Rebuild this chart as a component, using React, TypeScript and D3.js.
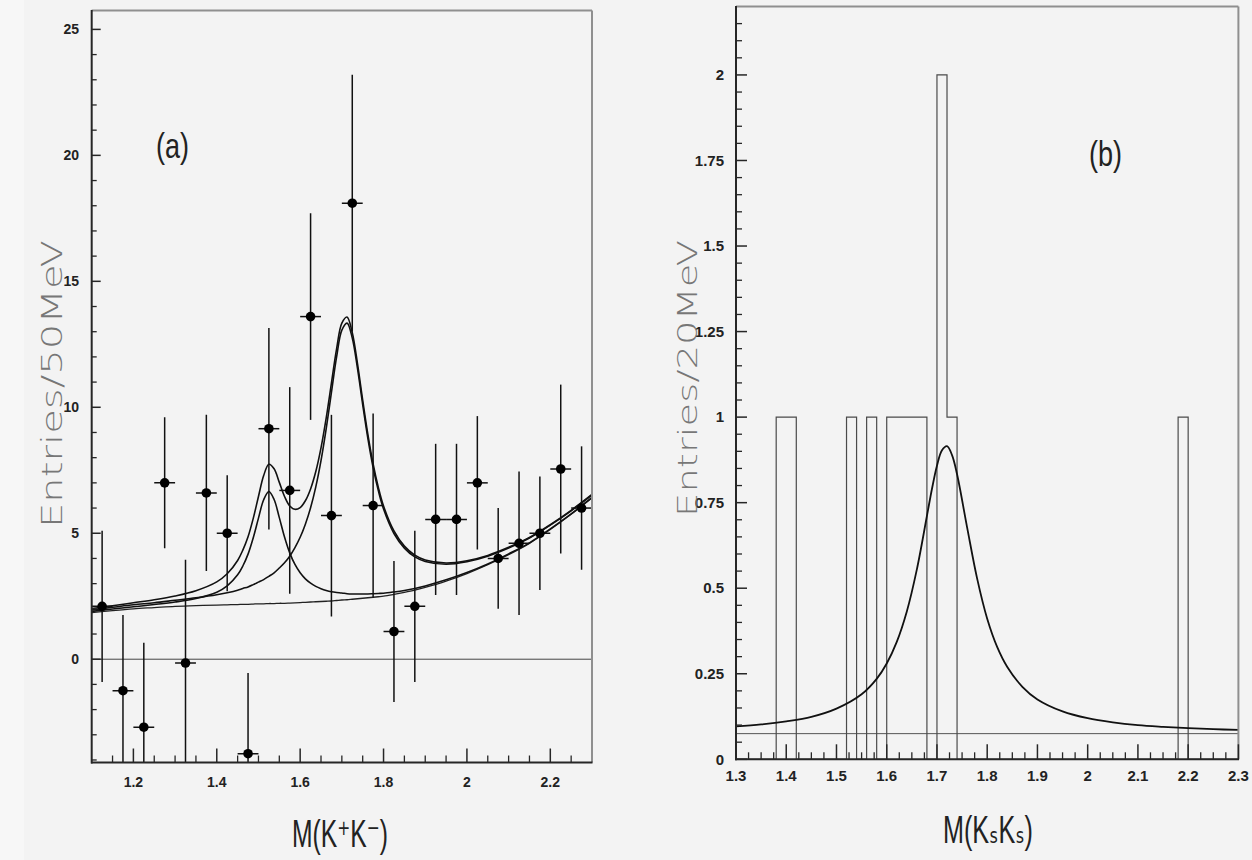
import React from 'react';
import * as d3 from 'd3';

// ---------- Panel (a): M(K+K-) data, 50 MeV bins ----------
const kkMass = [1.125, 1.175, 1.225, 1.275, 1.325, 1.375, 1.425, 1.475, 1.525, 1.575, 1.625, 1.675,
  1.725, 1.775, 1.825, 1.875, 1.925, 1.975, 2.025, 2.075, 2.125, 2.175, 2.225, 2.275];
const kkEntries = [2.1, -1.25, -2.7, 7.0, -0.15, 6.6, 5.0, -3.75, 9.15, 6.7, 13.6, 5.7,
  18.1, 6.1, 1.1, 2.1, 5.55, 5.55, 7.0, 4.0, 4.6, 5.0, 7.55, 6.0];
const kkErrors = [3.0, 3.0, 3.35, 2.6, 4.1, 3.1, 2.3, 3.2, 4.0, 4.1, 4.1, 4.0,
  5.1, 3.65, 2.8, 3.0, 3.0, 3.0, 2.65, 2.0, 2.85, 2.25, 3.35, 2.45];

// fit curves (background and the two resonance contributions)
const fitMass = [1.10, 1.15, 1.20, 1.25, 1.30, 1.35, 1.40, 1.425, 1.45, 1.4625, 1.475, 1.4875, 1.50,
  1.5125, 1.525, 1.5375, 1.55, 1.5625, 1.575, 1.5875, 1.60, 1.6125, 1.625, 1.6375, 1.65, 1.6625,
  1.675, 1.6875, 1.70, 1.7125, 1.725, 1.7375, 1.75, 1.7625, 1.775, 1.7875, 1.80, 1.825, 1.85,
  1.875, 1.90, 1.95, 2.00, 2.05, 2.10, 2.15, 2.20, 2.25, 2.30];
const fitBackground = [1.85, 1.93, 2.00, 2.05, 2.10, 2.13, 2.15, 2.16, 2.17, 2.18, 2.18, 2.19, 2.20,
  2.20, 2.21, 2.21, 2.22, 2.22, 2.23, 2.24, 2.25, 2.26, 2.27, 2.28, 2.29, 2.30,
  2.31, 2.33, 2.35, 2.36, 2.38, 2.40, 2.42, 2.44, 2.46, 2.48, 2.50, 2.57, 2.65,
  2.74, 2.85, 3.10, 3.40, 3.75, 4.15, 4.60, 5.15, 5.75, 6.40];
const fitPeakLow = [0.05, 0.06, 0.08, 0.12, 0.17, 0.28, 0.51, 0.75, 1.18, 1.52, 1.99, 2.63, 3.40,
  4.13, 4.45, 4.13, 3.40, 2.63, 1.99, 1.52, 1.18, 0.93, 0.75, 0.61, 0.51, 0.43,
  0.37, 0.32, 0.28, 0.24, 0.21, 0.19, 0.17, 0.15, 0.14, 0.13, 0.12, 0.10, 0.08,
  0.07, 0.06, 0.05, 0.04, 0.03, 0.03, 0.02, 0.02, 0.02, 0.02];
const fitPeakHigh = [0.11, 0.13, 0.16, 0.19, 0.24, 0.31, 0.41, 0.48, 0.57, 0.63, 0.69, 0.77, 0.86,
  0.96, 1.08, 1.22, 1.40, 1.61, 1.86, 2.19, 2.59, 3.10, 3.74, 4.56, 5.59, 6.85,
  8.28, 9.68, 10.71, 10.98, 10.37, 9.14, 7.69, 6.32, 5.15, 4.21, 3.46, 2.42, 1.76,
  1.32, 1.03, 0.67, 0.47, 0.34, 0.26, 0.21, 0.17, 0.14, 0.12];

const kkXTicks = [1.2, 1.4, 1.6, 1.8, 2.0, 2.2];
const kkXTickLabels = ['1.2', '1.4', '1.6', '1.8', '2', '2.2'];
const kkYTicks = [0, 5, 10, 15, 20, 25];

// ---------- Panel (b): M(KsKs) histogram, 20 MeV bins from 1.30 ----------
const ksCounts = [0, 0, 0, 0, 1, 1, 0, 0, 0, 0, 0, 1, 0, 1, 0, 1, 1, 1, 1, 0, 2, 1, 0, 0, 0,
  0, 0, 0, 0, 0, 0, 0, 0, 0, 0, 0, 0, 0, 0, 0, 0, 0, 0, 0, 1, 0, 0, 0, 0, 0];
const ksFitMass = [1.30, 1.35, 1.40, 1.45, 1.50, 1.55, 1.58, 1.60, 1.62, 1.64, 1.66, 1.68, 1.69, 1.70,
  1.71, 1.72, 1.73, 1.74, 1.76, 1.78, 1.80, 1.82, 1.84, 1.87, 1.90, 1.95, 2.00, 2.05, 2.10,
  2.15, 2.20, 2.25, 2.30];
const ksFitCurve = [0.096, 0.102, 0.111, 0.124, 0.148, 0.190, 0.235, 0.280, 0.343, 0.432, 0.555,
  0.711, 0.790, 0.858, 0.903, 0.915, 0.889, 0.833, 0.678, 0.528, 0.411, 0.328, 0.270, 0.212,
  0.175, 0.140, 0.120, 0.108, 0.100, 0.095, 0.091, 0.088, 0.086];
const ksFlatLevel = [0.075];
const ksXTicks = [1.3, 1.4, 1.5, 1.6, 1.7, 1.8, 1.9, 2.0, 2.1, 2.2, 2.3];
const ksXTickLabels = ['1.3', '1.4', '1.5', '1.6', '1.7', '1.8', '1.9', '2', '2.1', '2.2', '2.3'];
const ksYTicks = [0, 0.25, 0.5, 0.75, 1, 1.25, 1.5, 1.75, 2];
const ksYTickLabels = ['0', '0.25', '0.5', '0.75', '1', '1.25', '1.5', '1.75', '2'];

const TICK_FONT = "'Liberation Sans', Arial, sans-serif";
const TITLE_FONT = "'Liberation Sans Narrow', 'Liberation Sans', 'DejaVu Sans', sans-serif";
const YTITLE_FONT = "'DejaVu Sans', sans-serif";

export default function App() {
  const W = 1252, H = 860;

  // scales
  const kx = d3.scaleLinear().domain([1.1, 2.3]).range([91.7, 592]);
  const ky = d3.scaleLinear().domain([-4.1, 25.75]).range([762.5, 10.5]);
  const sx = d3.scaleLinear().domain([1.3, 2.3]).range([736, 1238.4]);
  const sy = d3.scaleLinear().domain([0, 2.2]).range([759.3, 6.5]);

  const curveLine = (xs: number[], ys: number[], xS: any, yS: any) =>
    d3.line<number>()
      .x((_, i) => xS(xs[i]))
      .y((v) => yS(v))
      .curve(d3.curveCatmullRom.alpha(0.5))(ys) as string;

  const total = fitBackground.map((b, i) => b + fitPeakLow[i] + fitPeakHigh[i]);
  const bgLow = fitBackground.map((b, i) => b + fitPeakLow[i]);
  const bgHigh = fitBackground.map((b, i) => b + fitPeakHigh[i]);

  // histogram outline
  const binW = 0.02;
  const histPts: [number, number][] = [[1.3, 0]];
  ksCounts.forEach((c, i) => {
    const lo = 1.3 + i * binW;
    histPts.push([lo, c]);
    histPts.push([lo + binW, c]);
  });
  histPts.push([2.3, 0]);
  const histPath = d3.line<[number, number]>().x((d) => sx(d[0])).y((d) => sy(d[1]))(histPts) as string;

  const ksCurvePath = curveLine(ksFitMass, ksFitCurve, sx, sy);

  // ticks
  const kxMinor = d3.range(23, 46).filter((i) => i % 4 !== 0).map((i) => i * 0.05);
  const kyMinor = d3.range(-4, 26).filter((v) => v % 5 !== 0);
  const sxMinor = d3.range(53, 92).filter((i) => i % 4 !== 0).map((i) => i * 0.025);
  const syMinor = d3.range(1, 44).filter((i) => i % 5 !== 0).map((i) => i * 0.05);

  const axisColor = '#262626';
  const frameColor = '#8f8f8f';

  return (
    <svg width={W} height={H} style={{ position: 'absolute', left: 0, top: 0, background: '#f3f3f3' }}>
      <defs>
        <clipPath id="clipA">
          <rect x={91.7} y={10.5} width={592 - 91.7} height={762.5 - 10.5} />
        </clipPath>
        <clipPath id="clipB">
          <rect x={736} y={6.5} width={1238.4 - 736} height={759.3 - 6.5} />
        </clipPath>
      </defs>
      <rect x={0} y={0} width={W} height={H} fill="#f3f3f3" />
      <rect x={0} y={0} width={24} height={H} fill="#f7f7f7" />

      {/* ================= Panel (a) ================= */}
      <g clipPath="url(#clipA)">
        <line x1={kx(1.1)} x2={kx(2.3)} y1={ky(0)} y2={ky(0)} stroke="#444" strokeWidth={1} />
        <path d={curveLine(fitMass, fitBackground, kx, ky)} fill="none" stroke="#222" strokeWidth={1.3} />
        <path d={curveLine(fitMass, bgLow, kx, ky)} fill="none" stroke="#111" strokeWidth={1.6} />
        <path d={curveLine(fitMass, bgHigh, kx, ky)} fill="none" stroke="#111" strokeWidth={1.6} />
        <path d={curveLine(fitMass, total, kx, ky)} fill="none" stroke="#111" strokeWidth={1.6} />
        {kkMass.map((m, i) => (
          <g key={i}>
            <line x1={kx(m)} x2={kx(m)} y1={ky(kkEntries[i] - kkErrors[i])} y2={ky(kkEntries[i] + kkErrors[i])}
              stroke="#111" strokeWidth={1.5} />
            <line x1={kx(m - 0.025)} x2={kx(m + 0.025)} y1={ky(kkEntries[i])} y2={ky(kkEntries[i])}
              stroke="#111" strokeWidth={1.5} />
            <circle cx={kx(m)} cy={ky(kkEntries[i])} r={4.8} fill="#000" />
          </g>
        ))}
      </g>
      {/* frame */}
      <line x1={kx(1.1)} x2={kx(2.3)} y1={10.5} y2={10.5} stroke={frameColor} strokeWidth={2} />
      <line x1={592} x2={592} y1={10.5} y2={762.5} stroke={frameColor} strokeWidth={2} />
      <line x1={91.7} x2={91.7} y1={10} y2={763.5} stroke={axisColor} strokeWidth={2} />
      <line x1={91} x2={592.5} y1={762.5} y2={762.5} stroke={axisColor} strokeWidth={2} />
      {kkYTicks.map((t, i) => (
        <g key={'ky' + i}>
          <line x1={91.7} x2={91.7 + 9} y1={ky(t)} y2={ky(t)} stroke={axisColor} strokeWidth={1.5} />
          <text x={79} y={ky(t)} dy="0.35em" textAnchor="end" fontFamily={TICK_FONT} fontWeight="bold"
            fontSize={14} fill="#222">{t}</text>
        </g>
      ))}
      {kyMinor.map((t, i) => (
        <line key={'kym' + i} x1={91.7} x2={91.7 + 5} y1={ky(t)} y2={ky(t)} stroke={axisColor} strokeWidth={1.3} />
      ))}
      {kkXTicks.map((t, i) => (
        <g key={'kx' + i}>
          <line x1={kx(t)} x2={kx(t)} y1={762.5} y2={762.5 - 14} stroke={axisColor} strokeWidth={1.5} />
          <text x={kx(t)} y={787} textAnchor="middle" fontFamily={TICK_FONT} fontWeight="bold" fontSize={14}
            fill="#222">{kkXTickLabels[i]}</text>
        </g>
      ))}
      {kxMinor.map((t, i) => (
        <line key={'kxm' + i} x1={kx(t)} x2={kx(t)} y1={762.5} y2={762.5 - 7} stroke={axisColor} strokeWidth={1.3} />
      ))}
      <text x={62} y={384} transform="rotate(-90 62 384)" textAnchor="middle" fontFamily={YTITLE_FONT}
        fontWeight={200} fontSize={28} fill="#777" textLength={288} lengthAdjust="spacingAndGlyphs">Entries/50MeV</text>
      <text x={292} y={847} fontFamily={TITLE_FONT} fontSize={38} fill="#222" textLength={96}
        lengthAdjust="spacingAndGlyphs">M(K⁺K⁻)</text>
      <text x={156} y={158} fontFamily={TITLE_FONT} fontSize={35} fill="#222" textLength={33}
        lengthAdjust="spacingAndGlyphs">(a)</text>

      {/* ================= Panel (b) ================= */}
      <g clipPath="url(#clipB)">
        <line x1={sx(1.3)} x2={sx(2.3)} y1={sy(ksFlatLevel[0])} y2={sy(ksFlatLevel[0])} stroke="#555" strokeWidth={1} />
        <path d={histPath} fill="none" stroke="#4a4a4a" strokeWidth={1.2} />
        <path d={ksCurvePath} fill="none" stroke="#111" strokeWidth={1.8} />
      </g>
      <line x1={736} x2={1238.4} y1={6.5} y2={6.5} stroke={frameColor} strokeWidth={2} />
      <line x1={1238.4} x2={1238.4} y1={6.5} y2={759.3} stroke={frameColor} strokeWidth={2} />
      <line x1={736} x2={736} y1={6} y2={760.3} stroke={axisColor} strokeWidth={2} />
      <line x1={735} x2={1239} y1={759.3} y2={759.3} stroke={axisColor} strokeWidth={2} />
      {ksYTicks.map((t, i) => (
        <g key={'sy' + i}>
          <line x1={736} x2={736 + 11} y1={sy(t)} y2={sy(t)} stroke={axisColor} strokeWidth={1.5} />
          <text x={724} y={sy(t)} dy="0.35em" textAnchor="end" fontFamily={TICK_FONT} fontWeight="bold"
            fontSize={15} fill="#222">{ksYTickLabels[i]}</text>
        </g>
      ))}
      {syMinor.map((t, i) => (
        <line key={'sym' + i} x1={736} x2={736 + 6} y1={sy(t)} y2={sy(t)} stroke={axisColor} strokeWidth={1.3} />
      ))}
      {ksXTicks.map((t, i) => (
        <g key={'sx' + i}>
          <line x1={sx(t)} x2={sx(t)} y1={759.3} y2={759.3 - 15} stroke={axisColor} strokeWidth={1.5} />
          <text x={sx(t)} y={781} textAnchor="middle" fontFamily={TICK_FONT} fontWeight="bold" fontSize={15}
            fill="#222">{ksXTickLabels[i]}</text>
        </g>
      ))}
      {sxMinor.map((t, i) => (
        <line key={'sxm' + i} x1={sx(t)} x2={sx(t)} y1={759.3} y2={759.3 - 7} stroke={axisColor} strokeWidth={1.3} />
      ))}
      <text x={697} y={378.5} transform="rotate(-90 697 378.5)" textAnchor="middle" fontFamily={YTITLE_FONT}
        fontWeight={200} fontSize={27} fill="#777" textLength={277} lengthAdjust="spacingAndGlyphs">Entries/20MeV</text>
      <text x={943} y={843} fontFamily={TITLE_FONT} fontSize={38} fill="#222" textLength={90}
        lengthAdjust="spacingAndGlyphs">M(KₛKₛ)</text>
      <text x={1089} y={166} fontFamily={TITLE_FONT} fontSize={35} fill="#222" textLength={33}
        lengthAdjust="spacingAndGlyphs">(b)</text>
    </svg>
  );
}
